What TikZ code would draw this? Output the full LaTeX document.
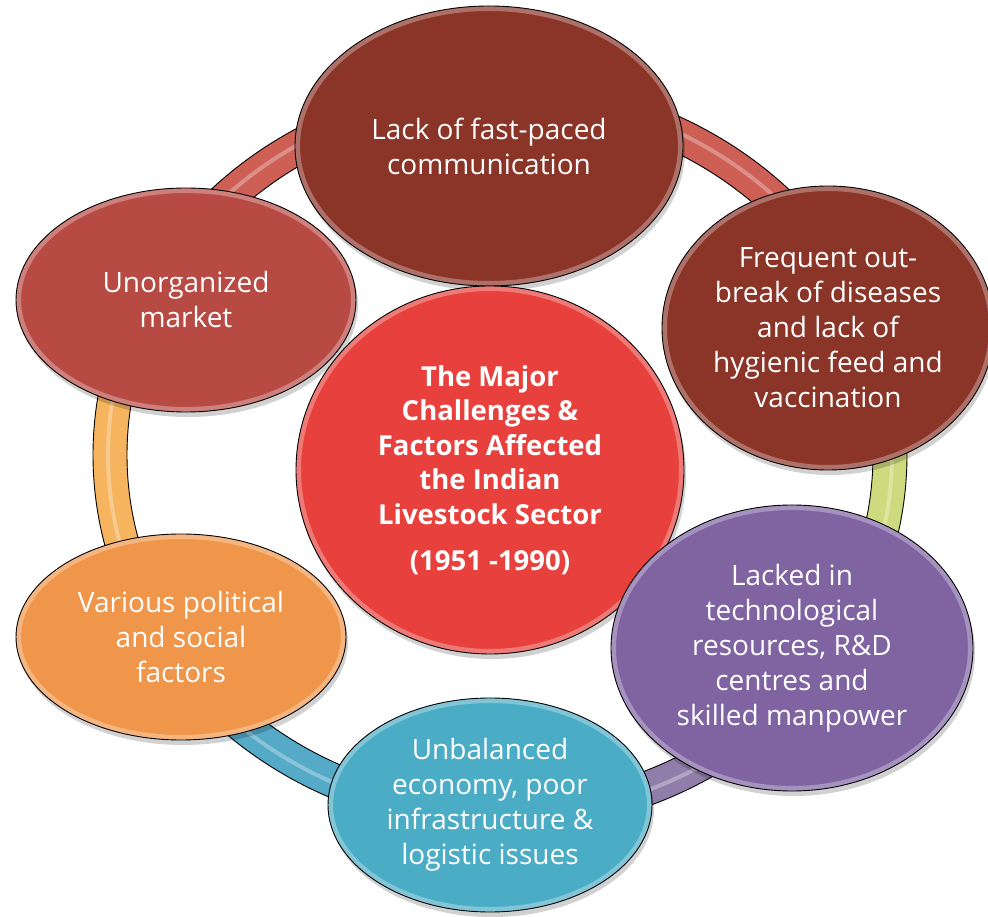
\documentclass[tikz,border=0pt]{standalone}
\usepackage{fontspec}
\setmainfont{Open Sans}
\usetikzlibrary{shapes.geometric,shadows,calc}

\definecolor{darkred}{RGB}{139,53,41}
\definecolor{brickred}{RGB}{184,74,68}
\definecolor{brightred}{RGB}{232,65,61}
\definecolor{orangeish}{RGB}{240,150,75}
\definecolor{purpleish}{RGB}{128,100,162}
\definecolor{blueish}{RGB}{75,172,198}
\definecolor{ringred}{RGB}{205,95,85}
\definecolor{ringorange}{RGB}{246,180,95}
\definecolor{ringgreen}{RGB}{205,218,125}
\definecolor{ringpurple}{RGB}{145,125,170}
\definecolor{ringblue}{RGB}{85,170,200}

\begin{document}
\begin{tikzpicture}[x=1pt,y=1pt,line join=round,line cap=round,
		bubble/.style={ellipse,draw=black,line width=0.9pt,inner sep=0pt,text=white,align=center,
			font=\fontsize{28}{35}\selectfont,
			drop shadow={shadow xshift=2pt,shadow yshift=-5pt,fill=black,opacity=0.18},
			path picture={\draw[white,opacity=0.3,line width=10pt]
				let \p1=(path picture bounding box.north east),\p2=(path picture bounding box.center)
				in (\p2) ellipse [x radius=\x1-\x2,y radius=\y1-\y2];}},
		band/.style={draw=black,line width=0.9pt}]
	\useasboundingbox (0,0) rectangle (988,916);
	
	% ring behind the bubbles
	\coordinate (ring) at (500,461);
	\foreach \c/\a/\b in {ringred/92/153,ringred/22/92,ringgreen/-32/22,ringpurple/-92/-32,ringblue/-151/-92,ringorange/153/209}{
		\filldraw[band,fill=\c] ([shift={(\a:407 and 377)}]ring) arc[start angle=\a,end angle=\b,x radius=407,y radius=377]
			-- ([shift={(\b:373 and 343)}]ring) arc[start angle=\b,end angle=\a,x radius=373,y radius=343] -- cycle;
		\draw[white,opacity=0.3,line width=4pt] ([shift={(\a:392 and 362)}]ring) arc[start angle=\a,end angle=\b,x radius=392,y radius=362];
	}
	
	\node[bubble,fill=darkred,minimum width=388pt,minimum height=280pt] (comm) at (489,770) {Lack of fast-paced\\communication};
	\node[bubble,fill=brickred,minimum width=340pt,minimum height=224pt] (market) at (186,616) {Unorganized\\market};
	\node[bubble,fill=darkred,minimum width=332pt,minimum height=284pt] (disease) at (828,588) {Frequent out-\\break of diseases\\and lack of\\hygienic feed and\\vaccination};
	\node[bubble,fill=brightred,minimum width=388pt,minimum height=368pt,font=\fontsize{27.5}{34.5}\selectfont\bfseries] (core) at (490,446)
		{The Major\\Challenges \&\\Factors Affected\\the Indian\\Livestock Sector\\[12pt](1951 -1990)};
	\node[bubble,fill=orangeish,minimum width=330pt,minimum height=206pt] (politics) at (181,279) {Various political\\and social\\factors};
	\node[bubble,fill=purpleish,minimum width=362pt,minimum height=286pt] (tech) at (792,268) {Lacked in\\technological\\resources, R\&D\\centres and\\skilled manpower};
	\node[bubble,fill=blueish,minimum width=324pt,minimum height=214pt] (economy) at (490,111) {Unbalanced\\economy, poor\\infrastructure \&\\logistic issues};
\end{tikzpicture}
\end{document}
